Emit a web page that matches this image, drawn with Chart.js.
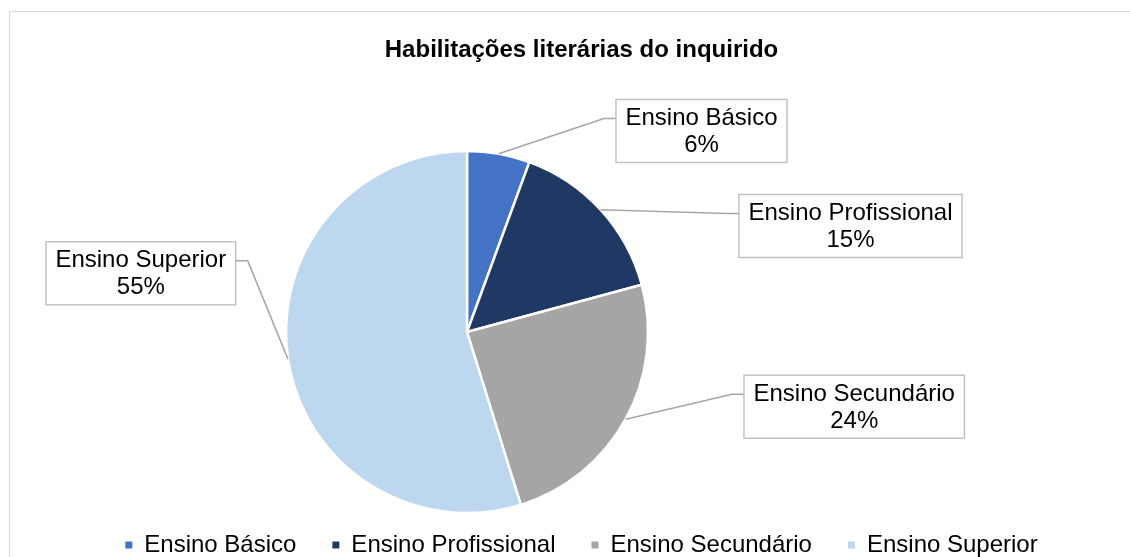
<!DOCTYPE html>
<html>
<head>
<meta charset="utf-8">
<script src="https://cdn.jsdelivr.net/npm/chart.js@4"></script>
<style>
  html, body { margin: 0; padding: 0; background: #ffffff; overflow: hidden; width: 1130px; height: 557px; }
  #wrap { position: absolute; left: 0; top: 0; }
</style>
</head>
<body>
<div id="wrap"><canvas id="c" width="1163" height="567"></canvas></div>
<script>
// ---- data ----
const chartTitle = 'Habilitações literárias do inquirido';
const categories = ['Ensino Básico', 'Ensino Profissional', 'Ensino Secundário', 'Ensino Superior'];
const values = [5.6, 15.2, 24.4, 54.8];
const colors = ['#4472C4', '#203864', '#A5A5A5', '#BDD7EE'];

// ---- layout (positions, not data) ----
const FONT = "'Liberation Sans', Arial, sans-serif";
const pieCenter = { x: 467, y: 332 };
const pieRadius = 181;
const calloutCenters = [
  { x: 701.5, y: 131 },
  { x: 850.5, y: 226 },
  { x: 854.2, y: 406.7 },
  { x: 140.8, y: 273.3 }
];

const total = values.reduce((a, b) => a + b, 0);
const pctLabels = values.map(v => Math.round(v / total * 100) + '%');

const framePlugin = {
  id: 'frame',
  beforeDraw(chart) {
    const ctx = chart.ctx;
    ctx.save();
    ctx.fillStyle = '#ffffff';
    ctx.fillRect(0, 0, chart.width, chart.height);
    ctx.strokeStyle = '#D9D9D9';
    ctx.lineWidth = 1;
    ctx.strokeRect(9.5, 11.5, 3000, 3000);
    ctx.restore();
  }
};

const areaPlugin = {
  id: 'area',
  afterLayout(chart) {
    const a = chart.chartArea;
    const half = pieRadius + 10;
    a.left = pieCenter.x - half;
    a.right = pieCenter.x + half;
    a.top = pieCenter.y - half;
    a.bottom = pieCenter.y + half;
    a.width = 2 * half;
    a.height = 2 * half;
  }
};

const calloutPlugin = {
  id: 'callouts',
  afterDatasetsDraw(chart) {
    const ctx = chart.ctx;
    const meta = chart.getDatasetMeta(0);
    ctx.save();
    ctx.font = '24px ' + FONT;
    meta.data.forEach((arc, i) => {
      const p = arc.getProps(['x', 'y', 'startAngle', 'endAngle', 'outerRadius'], true);
      const mid = (p.startAngle + p.endAngle) / 2;
      const ax = p.x + Math.cos(mid) * p.outerRadius;
      const ay = p.y + Math.sin(mid) * p.outerRadius;
      const l1 = categories[i], l2 = pctLabels[i];
      const tw = Math.max(ctx.measureText(l1).width, ctx.measureText(l2).width);
      const w = tw + 19, h = 63;
      const c = calloutCenters[i];
      const left = c.x - w / 2, top = c.y - h / 2;
      // leader line
      const onRight = c.x > ax;
      const ex = onRight ? left : left + w;
      const ey = top + 19;
      const bx = onRight ? ex - 12 : ex + 12;
      ctx.strokeStyle = '#A6A6A6';
      ctx.lineWidth = 1.6;
      ctx.beginPath();
      ctx.moveTo(ax, ay);
      ctx.lineTo(bx, ey);
      ctx.lineTo(ex, ey);
      ctx.stroke();
      // box
      ctx.fillStyle = '#ffffff';
      ctx.fillRect(left, top, w, h);
      ctx.strokeStyle = '#BFBFBF';
      ctx.lineWidth = 1.4;
      ctx.strokeRect(left, top, w, h);
      // text
      ctx.fillStyle = '#000000';
      ctx.textAlign = 'center';
      ctx.textBaseline = 'middle';
      ctx.fillText(l1, c.x, top + 19);
      ctx.fillText(l2, c.x, top + 46);
    });
    ctx.restore();
  }
};

new Chart(document.getElementById('c'), {
  type: 'pie',
  data: {
    labels: categories,
    datasets: [{
      data: values,
      backgroundColor: colors,
      borderColor: '#ffffff',
      borderWidth: 2.5,
      radius: pieRadius
    }]
  },
  options: {
    responsive: false,
    animation: false,
    events: [],
    layout: { padding: 0 },
    plugins: {
      title: {
        display: true,
        text: chartTitle,
        color: '#000000',
        font: { family: FONT, size: 24, weight: 'bold' },
        padding: { top: 35.5, bottom: 0 }
      },
      legend: {
        display: true,
        position: 'bottom',
        labels: {
          boxWidth: 7,
          boxHeight: 7,
          padding: 36,
          color: '#000000',
          font: { family: FONT, size: 24 },
          generateLabels(chart) {
            const base = Chart.overrides.pie.plugins.legend.labels.generateLabels(chart);
            return base.map(it => Object.assign(it, { lineWidth: 0, strokeStyle: 'rgba(0,0,0,0)' }));
          }
        }
      },
      tooltip: { enabled: false }
    }
  },
  plugins: [framePlugin, areaPlugin, calloutPlugin]
});
</script>
</body>
</html>
